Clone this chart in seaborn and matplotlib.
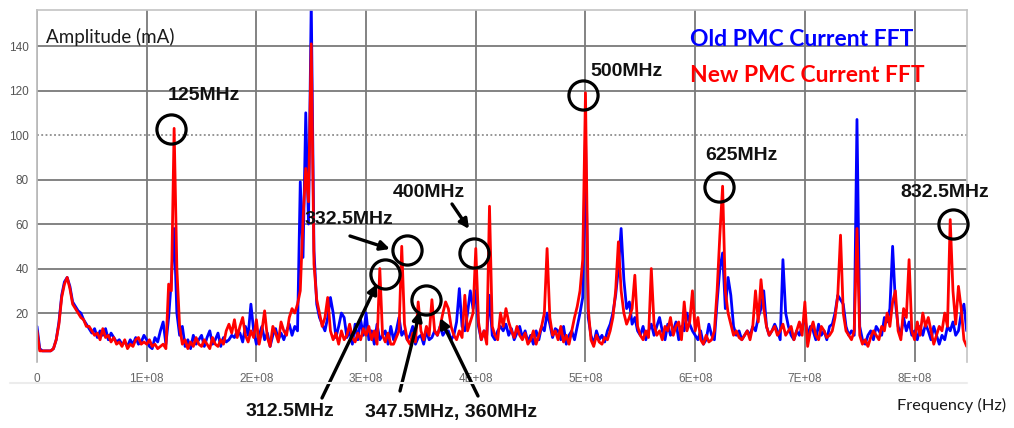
import numpy as np
import pandas as pd
import seaborn as sns
import matplotlib.pyplot as plt
from matplotlib.lines import Line2D

# ---- spectrum data (amplitude in mA, one value per 2.5 MHz FFT bin) ----
FREQ_STEP_HZ = 2.5e6

old_fft_ma = [
    14, 4, 3, 3, 3, 3, 4, 8, 16, 28,
    34, 36, 32, 25, 23, 21, 20, 17, 15, 13,
    11, 13, 9, 12, 10, 13, 8, 11, 9, 7,
    8, 6, 7, 5, 8, 6, 9, 6, 7, 10,
    8, 5, 4, 9, 7, 12, 16, 6, 18, 35,
    58, 20, 10, 14, 5, 8, 4, 10, 6, 8,
    10, 5, 9, 12, 6, 8, 11, 5, 9, 7,
    8, 10, 9, 12, 11, 7, 14, 10, 24, 12,
    6, 10, 14, 8, 11, 5, 10, 13, 8, 11,
    8, 12, 15, 10, 14, 12, 79, 45, 110, 60,
    160, 48, 24, 18, 15, 12, 18, 27, 20, 9,
    14, 20, 18, 9, 12, 6, 15, 8, 17, 10,
    20, 8, 12, 6, 15, 8, 10, 12, 6, 14,
    8, 12, 18, 10, 12, 8, 10, 14, 6, 9,
    10, 6, 12, 8, 9, 12, 10, 14, 10, 12,
    12, 8, 10, 16, 31, 14, 12, 20, 30, 22,
    30, 14, 8, 12, 10, 28, 10, 8, 12, 14,
    12, 15, 10, 13, 8, 11, 14, 9, 12, 7,
    10, 6, 12, 8, 14, 12, 20, 15, 9, 13,
    12, 8, 14, 6, 10, 12, 8, 14, 20, 27,
    100, 18, 10, 6, 12, 8, 10, 7, 12, 15,
    20, 28, 40, 58, 35, 22, 25, 15, 18, 12,
    10, 14, 8, 12, 15, 10, 14, 18, 12, 8,
    15, 10, 12, 16, 8, 14, 12, 20, 15, 12,
    10, 8, 12, 6, 8, 15, 10, 8, 25, 40,
    47, 22, 36, 28, 14, 10, 12, 8, 10, 12,
    10, 14, 12, 18, 22, 30, 14, 10, 12, 15,
    12, 8, 44, 20, 14, 10, 8, 12, 10, 14,
    18, 10, 14, 12, 8, 15, 10, 12, 8, 14,
    15, 20, 28, 26, 24, 14, 10, 12, 10, 107,
    14, 8, 6, 10, 12, 8, 14, 12, 10, 18,
    16, 22, 50, 25, 14, 10, 18, 12, 16, 10,
    12, 8, 14, 10, 15, 12, 8, 14, 10, 6,
    10, 8, 14, 12, 16, 10, 12, 20, 24, 12,
]

new_fft_ma = [
    12, 3, 3, 3, 3, 3, 4, 8, 15, 27,
    33, 36, 31, 24, 22, 20, 18, 17, 14, 14,
    12, 10, 11, 8, 13, 9, 10, 7, 9, 6,
    7, 5, 8, 4, 6, 5, 8, 9, 6, 7,
    6, 8, 5, 6, 4, 5, 6, 4, 33, 30,
    103, 40, 14, 6, 8, 4, 7, 5, 9, 6,
    5, 8, 6, 4, 9, 6, 5, 8, 6, 12,
    15, 11, 17, 9, 14, 18, 10, 7, 12, 9,
    17, 6, 12, 21, 9, 5, 14, 11, 7, 16,
    12, 10, 18, 22, 20, 24, 30, 62, 85, 70,
    141, 42, 26, 20, 14, 18, 27, 12, 8, 11,
    6, 12, 8, 10, 15, 9, 7, 11, 8, 13,
    10, 14, 8, 12, 6, 40, 10, 7, 11, 6,
    6, 9, 12, 50, 15, 8, 6, 11, 7, 25,
    12, 8, 14, 10, 26, 12, 10, 14, 20, 25,
    22, 14, 10, 8, 12, 9, 28, 12, 16, 20,
    49, 16, 8, 12, 6, 68, 14, 10, 8, 20,
    14, 22, 16, 12, 9, 14, 10, 8, 11, 6,
    8, 12, 6, 10, 14, 20, 49, 18, 10, 12,
    8, 14, 7, 10, 6, 12, 18, 23, 30, 44,
    119, 22, 8, 5, 10, 7, 6, 9, 8, 12,
    18, 30, 52, 30, 20, 15, 18, 22, 37, 14,
    10, 8, 12, 9, 40, 15, 10, 12, 8, 14,
    12, 18, 10, 14, 16, 8, 25, 12, 16, 30,
    12, 18, 8, 6, 10, 7, 8, 12, 30, 55,
    77, 30, 20, 15, 10, 12, 9, 8, 10, 12,
    8, 14, 30, 16, 35, 22, 14, 10, 12, 14,
    10, 12, 15, 10, 12, 14, 8, 12, 16, 10,
    25, 5, 12, 16, 10, 8, 14, 12, 9, 10,
    12, 18, 28, 55, 20, 12, 10, 8, 12, 58,
    10, 6, 8, 5, 9, 12, 10, 8, 14, 12,
    20, 14, 25, 30, 12, 8, 22, 18, 44, 12,
    8, 16, 10, 20, 14, 18, 12, 6, 10, 14,
    12, 20, 14, 62, 30, 15, 32, 22, 8, 5,
]

series_names = ["Old PMC Current FFT", "New PMC Current FFT"]
series_colors = ["#0000ff", "#ff0000"]

xtick_values = [0, 1e8, 2e8, 3e8, 4e8, 5e8, 6e8, 7e8, 8e8]
xtick_labels = ["0", "1E+08", "2E+08", "3E+08", "4E+08",
                "5E+08", "6E+08", "7E+08", "8E+08"]
ytick_values = [20, 40, 60, 80, 100, 120, 140]

# harmonic call-outs: label text and the ringed spot (Hz, mA)
callout_labels = ["125MHz", "500MHz", "625MHz", "832.5MHz", "400MHz",
                  "332.5MHz", "312.5MHz", "347.5MHz, 360MHz"]
ring_freq_hz = [122e6, 497.7e6, 621.7e6, 835e6, 398.4e6, 337.3e6, 317.2e6, 354.6e6]
ring_amp_ma = [102.7, 118.0, 76.6, 59.8, 47.0, 48.3, 37.5, 25.8]

# ---- long-form table for seaborn ----
freq_hz = np.arange(len(old_fft_ma)) * FREQ_STEP_HZ
df = pd.DataFrame({
    "freq": np.concatenate([freq_hz, freq_hz]),
    "amp": old_fft_ma + new_fft_ma,
    "series": [series_names[0]] * len(old_fft_ma) + [series_names[1]] * len(new_fft_ma),
})

sns.set_style("white")
plt.rcParams["font.family"] = ["Liberation Sans", "DejaVu Sans"]

W, H = 1014, 428
fig = plt.figure(figsize=(W / 100, H / 100), dpi=100)
ax = fig.add_axes([37 / W, 1 - 362 / H, 930 / W, 352 / H])


def fp(x, y):
    """top-left pixel position -> figure fraction"""
    return (x / W, 1 - y / H)


sns.lineplot(data=df, x="freq", y="amp", hue="series", hue_order=series_names,
             palette=series_colors, linewidth=2.0, legend=False,
             estimator=None, sort=False, ax=ax)

ax.set_xlim(0, 847.8e6)
ax.set_ylim(-2, 156.2)
ax.set_xlabel("")
ax.set_ylabel("")

# grid and axes frame
grid_col = "#7a7a7a"
ax.set_xticks(xtick_values)
ax.set_xticklabels(xtick_labels)
ax.set_yticks(ytick_values)
ax.grid(True, axis="both", color=grid_col, linewidth=1.3)
for gl, v in zip(ax.get_ygridlines(), ytick_values):
    if v == 100:
        gl.set_linestyle((0, (1.2, 1.6)))
        gl.set_linewidth(1.1)
ax.get_xgridlines()[0].set_color("#b8b8b8")
ax.set_axisbelow(True)

for side in ["top", "right"]:
    ax.spines[side].set_color("#c4c4c4")
    ax.spines[side].set_linewidth(1.2)
ax.spines["left"].set_color("#b8b8b8")
ax.spines["left"].set_linewidth(1.2)
ax.spines["bottom"].set_visible(False)

tick_font = ["Liberation Sans Narrow", "Liberation Sans"]
ax.tick_params(axis="y", length=5, width=1.3, color=grid_col, pad=1,
               labelsize=8.5, labelcolor="#555555")
ax.tick_params(axis="x", length=4, width=1.0, color="#9a9a9a", pad=4,
               labelsize=8.5, labelcolor="#666666")
for lab in ax.get_xticklabels() + ax.get_yticklabels():
    lab.set_family(tick_font)

# faint line framing the lower edge of the chart area
fig.add_artist(Line2D([10 / W, 967 / W], [1 - 383 / H] * 2, color="#ececec", lw=1.5))

# axis captions
cap_font = ["Lato", "DejaVu Sans"]
fig.text(*fp(46, 37), "Amplitude (mA)", ha="left", va="center",
         fontsize=13.5, color="#1a1a1a", family=cap_font)
fig.text(*fp(897, 405), "Frequency (Hz)", ha="left", va="center",
         fontsize=11.8, color="#1a1a1a", family=cap_font)

# series names
fig.text(*fp(690, 40), series_names[0], ha="left", va="center", fontsize=16.5,
         fontweight="bold", color=series_colors[0], family=cap_font)
fig.text(*fp(690, 75), series_names[1], ha="left", va="center", fontsize=16.5,
         fontweight="bold", color=series_colors[1], family=cap_font)

# rings around the marked harmonics
ax.plot(ring_freq_hz, ring_amp_ma, linestyle="none", marker="o", markersize=21,
        markerfacecolor="none", markeredgecolor="black", markeredgewidth=2.3,
        clip_on=False, zorder=5)

# call-out labels (left edge, vertical centre in pixels)
label_px = [(168, 96), (590, 72), (705, 155), (900, 192), (393, 192),
            (305, 219), (246, 412), (365, 412)]
for text, (x, y) in zip(callout_labels, label_px):
    fig.text(*fp(x, y), text, ha="left", va="center", fontsize=14,
             fontweight="bold", color="#111111")

# pointer arrows: (tail, head) in pixels
arrows_px = [
    ((350, 236), (390, 249)),
    ((452, 204), (469, 229)),
    ((322, 398), (377, 284)),
    ((400, 391), (420, 311)),
    ((478, 396), (440, 318)),
]
for tail, head in arrows_px:
    ax.annotate("", xy=fp(*head), xytext=fp(*tail), xycoords="figure fraction",
                textcoords="figure fraction",
                arrowprops=dict(arrowstyle="-|>", color="black", lw=2.4,
                                mutation_scale=14, shrinkA=0, shrinkB=0))

fig.savefig("out.png", dpi=100, facecolor="white")
